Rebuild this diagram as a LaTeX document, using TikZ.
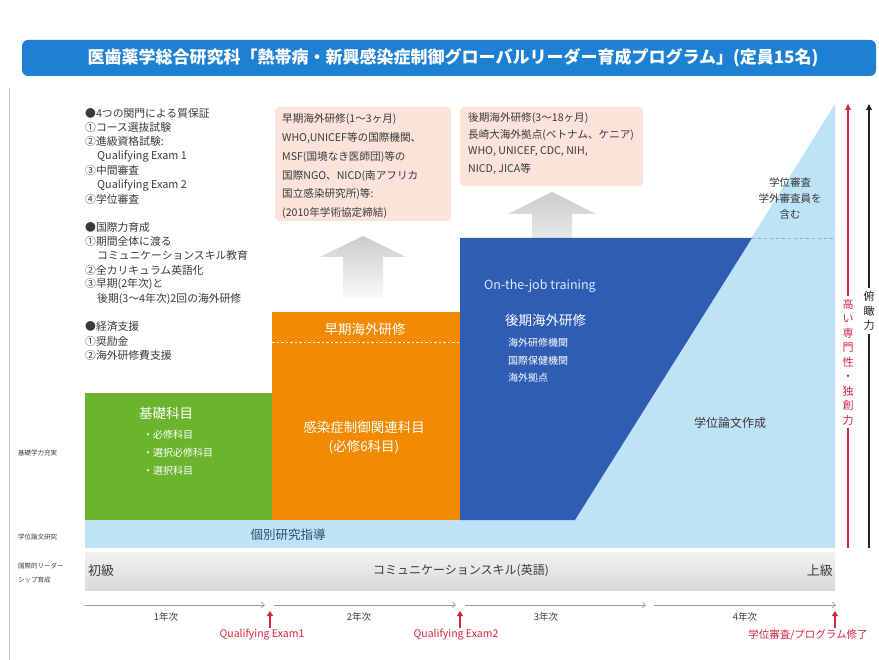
\documentclass[tikz,border=0pt]{standalone}
\usepackage{fontspec}
\setmainfont{Noto Sans CJK JP}
\usetikzlibrary{arrows.meta}
\definecolor{titleblue}{HTML}{1E80D2}
\definecolor{grn}{HTML}{6AB42E}
\definecolor{org}{HTML}{F18A00}
\definecolor{dblue}{HTML}{2F5DB4}
\definecolor{lblue}{HTML}{BEE2F6}
\definecolor{pnk}{HTML}{FBE3DA}
\definecolor{redc}{HTML}{D7263F}
\definecolor{txt}{HTML}{3A3A3A}
\definecolor{navytxt}{HTML}{2C4C6E}
\definecolor{ojt}{HTML}{DCE9F8}
\tikzset{
  lst/.style={anchor=west, inner sep=0pt, text=txt, font=\fontsize{10.8}{12}\selectfont},
  pk/.style={anchor=west, inner sep=0pt, text=txt, font=\fontsize{10.6}{11}\selectfont},
  wbig/.style={inner sep=0pt, text=white, font=\fontsize{13.5}{15}\selectfont},
  wsmall/.style={anchor=west, inner sep=0pt, text=white, font=\fontsize{10}{11}\selectfont},
  rowlab/.style={anchor=west, inner sep=0pt, text=txt, font=\fontsize{6.5}{7}\selectfont},
  yearlab/.style={inner sep=0pt, text=txt, font=\fontsize{9.5}{10}\selectfont},
  redlab/.style={inner sep=0pt, text=redc, font=\fontsize{10.5}{11}\selectfont},
  tline/.style={draw=gray!80, line width=0.6pt, -{Straight Barb[length=3.5pt,width=6pt]}},
  redup/.style={draw=redc, line width=1.2pt, -{Triangle[length=5pt,width=6pt]}},
  vtext/.style={fill=white, inner xsep=1pt, inner ysep=3pt, align=center, font=\fontsize{11}{14.5}\selectfont},
}
\begin{document}
\begin{tikzpicture}[x=1pt,y=-1pt]
\useasboundingbox (0,0) rectangle (879,660);
\fill[white] (0,0) rectangle (879,660);
\draw[gray!45, line width=0.8pt] (9,88) -- (9,660);

% title bar
\fill[titleblue, rounded corners=6pt] (22,40) rectangle (876,76);
\node[inner sep=0pt, text=white, font=\fontsize{17}{18}\selectfont\bfseries] (title) at (453,58)
  {医歯薬学総合研究科「熱帯病・新興感染症制御グローバルリーダー育成プログラム」(定員15名)};

% left list
\node[lst] (l1) at (85,113) {●4つの関門による質保証};
\node[lst] (l2) at (85,127) {①コース選抜試験};
\node[lst] (l3) at (85,141) {②進級資格試験:};
\node[lst] (l4) at (97,156) {Qualifying Exam 1};
\node[lst] (l5) at (85,170) {③中間審査};
\node[lst] (l6) at (97,185) {Qualifying Exam 2};
\node[lst] (l7) at (85,199) {④学位審査};
\node[lst] (l8) at (85,227) {●国際力育成};
\node[lst] (l9) at (85,241) {①期間全体に渡る};
\node[lst] (l10) at (97,255) {コミュニケーションスキル教育};
\node[lst] (l11) at (85,270) {②全カリキュラム英語化};
\node[lst] (l12) at (85,284) {③早期(2年次)と};
\node[lst] (l13) at (97,299) {後期(3〜4年次)2回の海外研修};
\node[lst] (l14) at (85,326) {●経済支援};
\node[lst] (l15) at (85,341) {①奨励金};
\node[lst] (l16) at (85,355) {②海外研修費支援};

% pink boxes
\fill[pnk, rounded corners=4pt] (275,107) rectangle (451,221);
\node[pk] (p1) at (282,119) {早期海外研修(1〜3ヶ月)};
\node[pk] (p2) at (282,138) {WHO,UNICEF等の国際機関、};
\node[pk] (p3) at (282,157) {MSF(国境なき医師団)等の};
\node[pk] (p4) at (282,176) {国際NGO、NICD(南アフリカ};
\node[pk] (p5) at (282,194) {国立感染研究所)等:};
\node[pk] (p6) at (282,213) {(2010年学術協定締結)};

\fill[pnk, rounded corners=4pt] (460,107) rectangle (643,186);
\node[pk] (q1) at (468,118) {後期海外研修(3〜18ヶ月)};
\node[pk] (q2) at (468,135) {長崎大海外拠点(ベトナム、ケニア)};
\node[pk] (q3) at (468,152) {WHO, UNICEF, CDC, NIH,};
\node[pk] (q4) at (468,169) {NICD, JICA等};

% gray arrows
\shade[top color=gray!40, middle color=gray!42, bottom color=gray!4]
  (363,236) -- (406,257) -- (383,257) -- (383,298) -- (343,298) -- (343,257) -- (320,257) -- cycle;
\shade[top color=gray!40, middle color=gray!42, bottom color=gray!18]
  (552,192) -- (596,214) -- (572,214) -- (572,238) -- (532,238) -- (532,214) -- (508,214) -- cycle;

% light blue region
\fill[lblue] (85,520) -- (575,520) -- (835,104) -- (835,548) -- (85,548) -- cycle;
% green
\fill[grn] (85,393) rectangle (272,520);
% orange
\fill[org] (272,312) rectangle (460,520);
% dark blue
\fill[dblue] (460,238) -- (752,238) -- (575,520) -- (460,520) -- cycle;

\draw[white, line width=1pt, dash pattern=on 2.5pt off 2pt] (272,343) -- (460,343);
\draw[gray!70, line width=0.9pt, dash pattern=on 3pt off 3pt] (752,238) -- (835,238);

% green text
\node[wbig] (g0) at (166,413) {基礎科目};
\node[wsmall] (g1) at (143,435) {・必修科目};
\node[wsmall] (g2) at (143,453) {・選択必修科目};
\node[wsmall] (g3) at (143,471) {・選択科目};

% orange text
\node[wbig] (o0) at (365,329) {早期海外研修};
\node[wbig] (o1) at (364,427) {感染症制御関連科目};
\node[wbig] (o2) at (364,447) {(必修6科目)};

% blue text
\node[anchor=west, inner sep=0pt, text=ojt, font=\fontsize{12.5}{14}\selectfont] (b0) at (484,286) {On-the-job training};
\node[wbig, anchor=west] (b1) at (505,320) {後期海外研修};
\node[wsmall] (b2) at (508,343) {海外研修機関};
\node[wsmall] (b3) at (508,361) {国際保健機関};
\node[wsmall] (b4) at (508,378) {海外拠点};

% light blue text
\node[inner sep=0pt, text=txt, align=center, font=\fontsize{10.5}{16}\selectfont] (sh) at (790,198)
  {学位審査\\学外審査員を\\含む};
\node[inner sep=0pt, text=txt, font=\fontsize{12}{13}\selectfont] (ron) at (730,423) {学位論文作成};
\node[inner sep=0pt, text=navytxt, font=\fontsize{12.5}{13}\selectfont] (kob) at (288,535) {個別研究指導};

% row labels
\node[rowlab] (r1) at (18,453) {基礎学力充実};
\node[rowlab] (r2) at (18,537) {学位論文研究};
\node[rowlab] (r3) at (18,566) {国際的リーダー};
\node[rowlab] (r4) at (18,580) {シップ育成};

% gray bar
\shade[top color=gray!10, bottom color=gray!30] (85,552) rectangle (835,590);
\node[anchor=west, inner sep=0pt, text=txt, font=\fontsize{13}{14}\selectfont] (sho) at (88,571) {初級};
\node[inner sep=0pt, text=txt, font=\fontsize{12}{13}\selectfont] (com) at (461,571) {コミュニケーションスキル(英語)};
\node[anchor=east, inner sep=0pt, text=txt, font=\fontsize{13}{14}\selectfont] (jok) at (833,571) {上級};

% timeline
\coordinate (t0) at (85,605);
\coordinate (t1) at (265,605);
\coordinate (t2) at (274,605);
\coordinate (t3) at (456,605);
\coordinate (t4) at (465,605);
\coordinate (t5) at (646,605);
\coordinate (t6) at (654,605);
\coordinate (t7) at (836,605);
\draw[tline] (t0) -- (t1);
\draw[tline] (t2) -- (t3);
\draw[tline] (t4) -- (t5);
\draw[tline] (t6) -- (t7);
\node[yearlab] (y1) at (166,617) {1年次};
\node[yearlab] (y2) at (359,617) {2年次};
\node[yearlab] (y3) at (546,617) {3年次};
\node[yearlab] (y4) at (745,617) {4年次};

\coordinate (e1a) at (270,628); \coordinate (e1b) at (270,611);
\coordinate (e2a) at (460,628); \coordinate (e2b) at (460,611);
\coordinate (e3a) at (835,628); \coordinate (e3b) at (835,611);
\draw[redup] (e1a) -- (e1b);
\draw[redup] (e2a) -- (e2b);
\draw[redup] (e3a) -- (e3b);
\node[redlab] (q1l) at (262,635) {Qualifying Exam1};
\node[redlab] (q2l) at (456,635) {Qualifying Exam2};
\node[redlab] (q3l) at (808,635) {学位審査/プログラム修了};

% right arrows
\coordinate (ra) at (848,548); \coordinate (rb) at (848,104);
\coordinate (ka) at (869,548); \coordinate (kb) at (869,104);
\draw[redc, line width=1.3pt, -{Triangle[length=6pt,width=6pt]}] (ra) -- (rb);
\draw[black!85, line width=1.3pt, -{Triangle[length=6pt,width=6pt]}] (ka) -- (kb);
\node[vtext, text=redc] (rt) at (848,362) {高\\い\\専\\門\\性\\・\\独\\創\\力};
\node[vtext, text=black!85] (kt) at (869,311) {俯\\瞰\\力};
\end{tikzpicture}
\end{document}
